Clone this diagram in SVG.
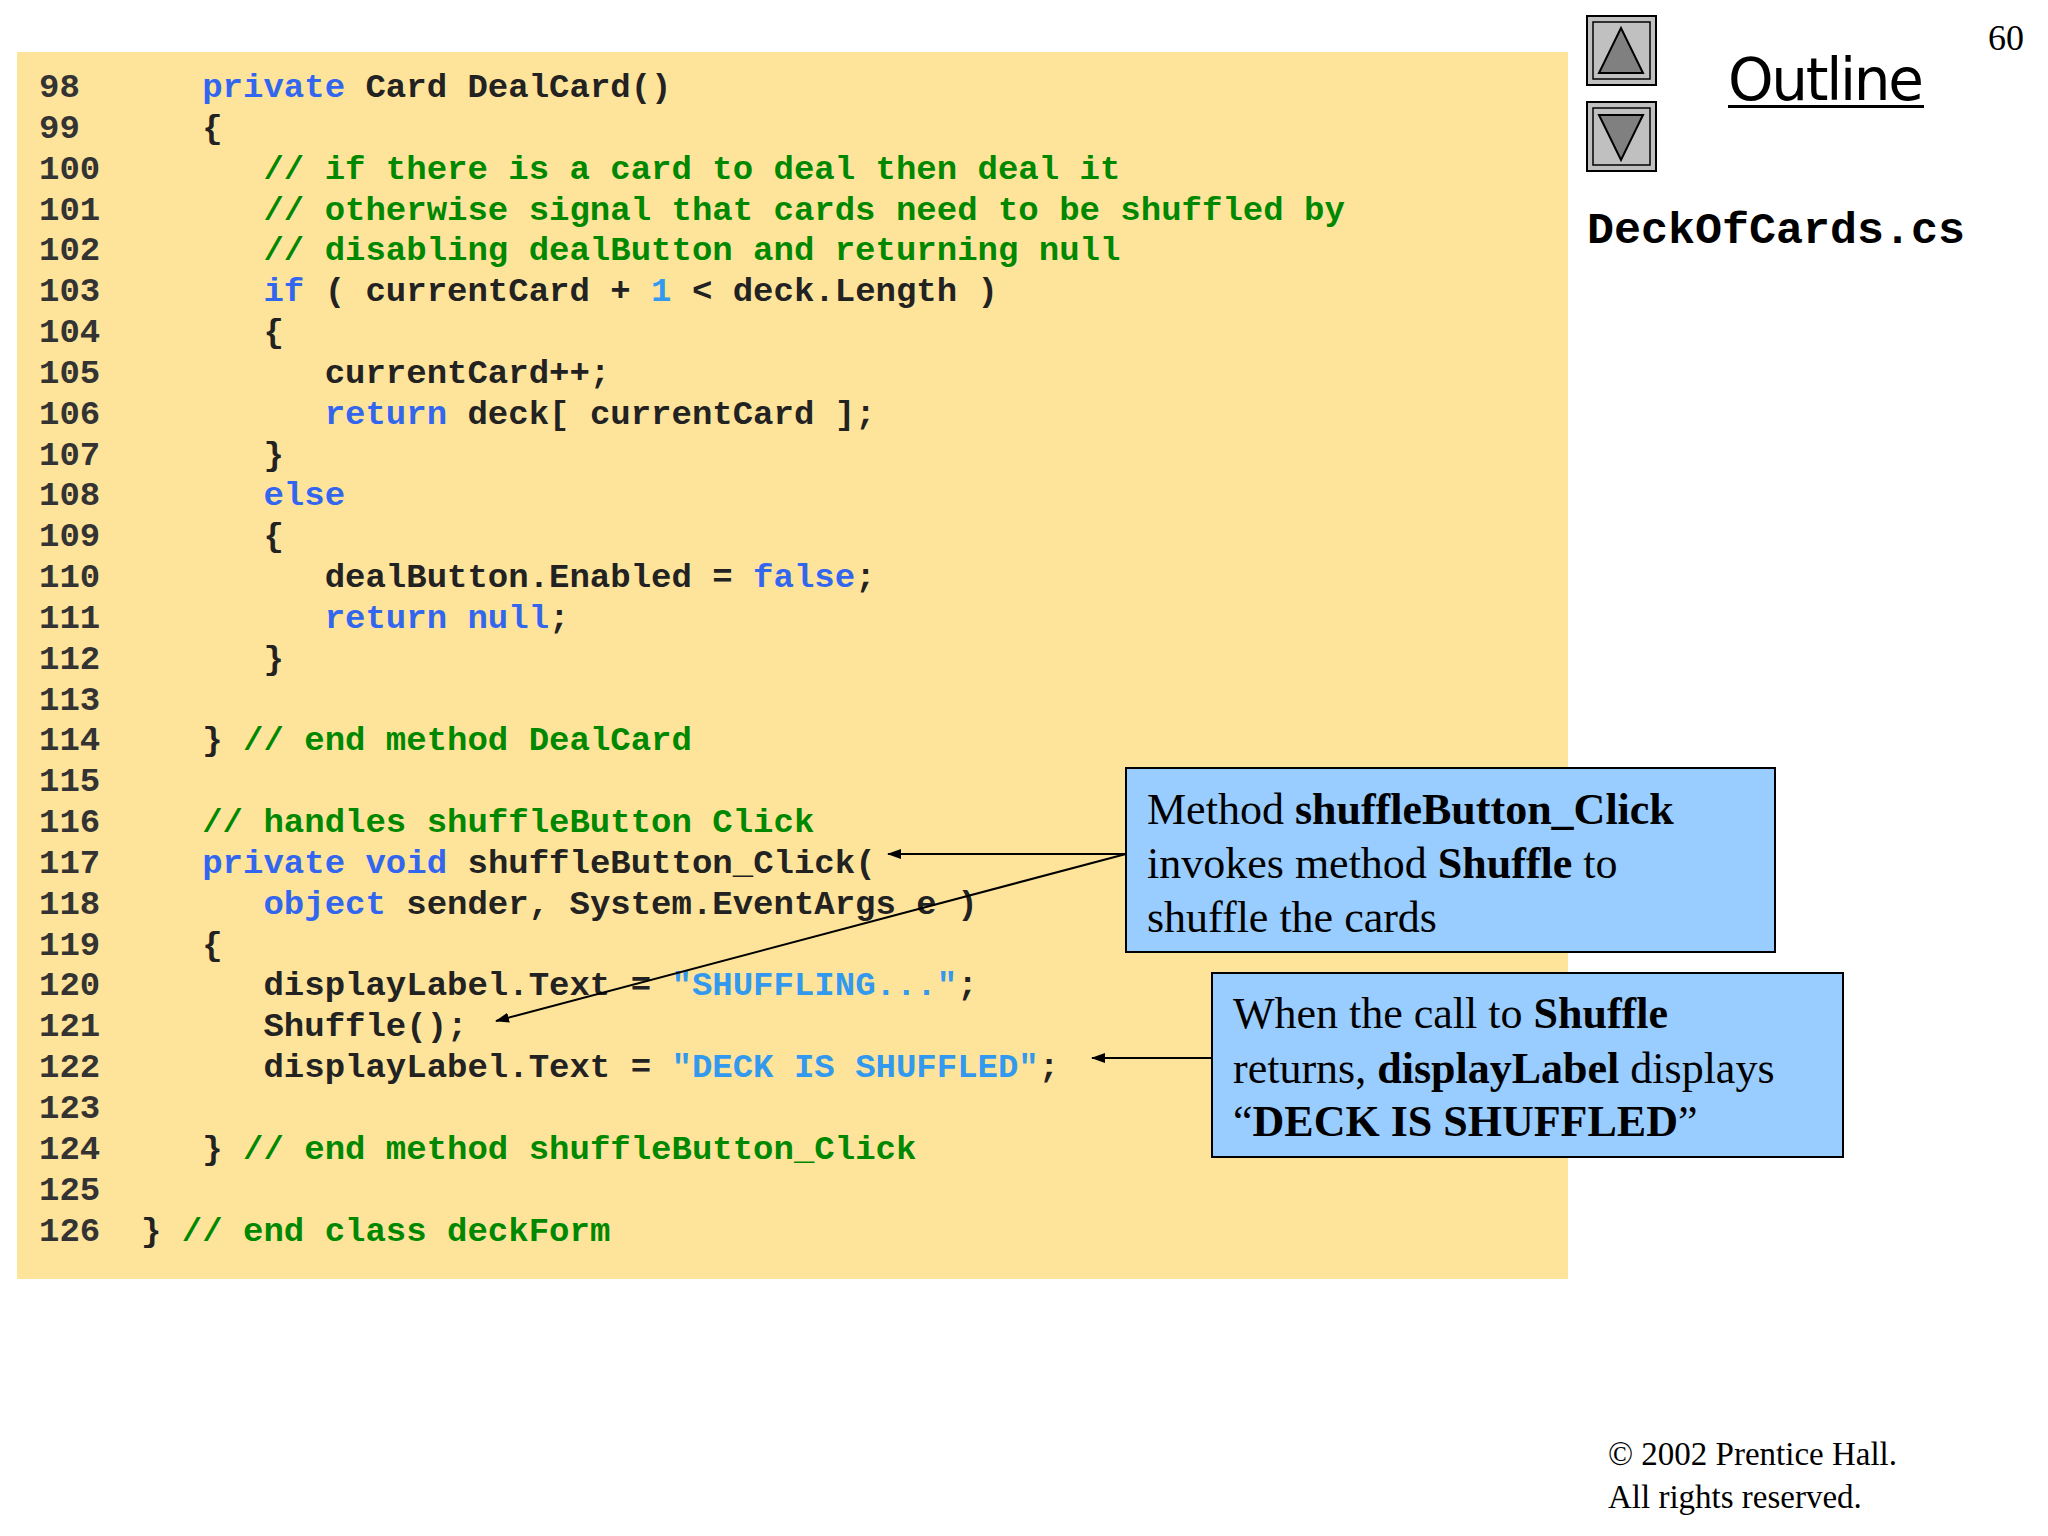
<svg xmlns="http://www.w3.org/2000/svg" width="2048" height="1536" viewBox="0 0 2048 1536">
<defs>
<marker id="ah" markerWidth="14" markerHeight="10" refX="13" refY="5" orient="auto" markerUnits="userSpaceOnUse"><path d="M0,0 L14,5 L0,10 Z" fill="#000"/></marker>
<style>
.c{font-family:"Liberation Mono",monospace;font-weight:bold;font-size:34px;fill:#222;white-space:pre}
.n{font-family:"Liberation Mono",monospace;font-weight:bold;font-size:34px;fill:#333}
.k{fill:#3366ee}.g{fill:#008800}.s{fill:#3399ee}
.t{font-family:"Liberation Serif",serif;font-size:44px;fill:#000}
.box{fill:#99ccff;stroke:#000;stroke-width:2}
.btn{fill:#c0c0c0;stroke:#000;stroke-width:2}
</style>
</defs>
<rect width="2048" height="1536" fill="#fff"/>
<rect x="17" y="52" width="1551" height="1227" fill="#fee49b"/>
<g id="code" xml:space="preserve">
<text class="n" x="39" y="97">98</text><text class="c" x="141" y="97">   <tspan class="k">private</tspan> Card DealCard()</text>
<text class="n" x="39" y="138">99</text><text class="c" x="141" y="138">   {</text>
<text class="n" x="39" y="179">100</text><text class="c g" x="141" y="179">      // if there is a card to deal then deal it</text>
<text class="n" x="39" y="220">101</text><text class="c g" x="141" y="220">      // otherwise signal that cards need to be shuffled by</text>
<text class="n" x="39" y="260">102</text><text class="c g" x="141" y="260">      // disabling dealButton and returning null</text>
<text class="n" x="39" y="301">103</text><text class="c" x="141" y="301">      <tspan class="k">if</tspan> ( currentCard + <tspan class="s">1</tspan> &lt; deck.Length )</text>
<text class="n" x="39" y="342">104</text><text class="c" x="141" y="342">      {</text>
<text class="n" x="39" y="383">105</text><text class="c" x="141" y="383">         currentCard++;</text>
<text class="n" x="39" y="424">106</text><text class="c" x="141" y="424">         <tspan class="k">return</tspan> deck[ currentCard ];</text>
<text class="n" x="39" y="465">107</text><text class="c" x="141" y="465">      }</text>
<text class="n" x="39" y="505">108</text><text class="c k" x="141" y="505">      else</text>
<text class="n" x="39" y="546">109</text><text class="c" x="141" y="546">      {</text>
<text class="n" x="39" y="587">110</text><text class="c" x="141" y="587">         dealButton.Enabled = <tspan class="k">false</tspan>;</text>
<text class="n" x="39" y="628">111</text><text class="c" x="141" y="628">         <tspan class="k">return</tspan> <tspan class="k">null</tspan>;</text>
<text class="n" x="39" y="669">112</text><text class="c" x="141" y="669">      }</text>
<text class="n" x="39" y="710">113</text>
<text class="n" x="39" y="750">114</text><text class="c" x="141" y="750">   } <tspan class="g">// end method DealCard</tspan></text>
<text class="n" x="39" y="791">115</text>
<text class="n" x="39" y="832">116</text><text class="c g" x="141" y="832">   // handles shuffleButton Click</text>
<text class="n" x="39" y="873">117</text><text class="c" x="141" y="873">   <tspan class="k">private</tspan> <tspan class="k">void</tspan> shuffleButton_Click(</text>
<text class="n" x="39" y="914">118</text><text class="c" x="141" y="914">      <tspan class="k">object</tspan> sender, System.EventArgs e )</text>
<text class="n" x="39" y="955">119</text><text class="c" x="141" y="955">   {</text>
<text class="n" x="39" y="995">120</text><text class="c" x="141" y="995">      displayLabel.Text = <tspan class="s">"SHUFFLING..."</tspan>;</text>
<text class="n" x="39" y="1036">121</text><text class="c" x="141" y="1036">      Shuffle();</text>
<text class="n" x="39" y="1077">122</text><text class="c" x="141" y="1077">      displayLabel.Text = <tspan class="s">"DECK IS SHUFFLED"</tspan>;</text>
<text class="n" x="39" y="1118">123</text>
<text class="n" x="39" y="1159">124</text><text class="c" x="141" y="1159">   } <tspan class="g">// end method shuffleButton_Click</tspan></text>
<text class="n" x="39" y="1200">125</text>
<text class="n" x="39" y="1241">126</text><text class="c" x="141" y="1241">} <tspan class="g">// end class deckForm</tspan></text>
</g>
<g id="connectors" stroke="#000" stroke-width="2" fill="none">
<line x1="1126" y1="854" x2="888" y2="854" marker-end="url(#ah)"/>
<line x1="1126" y1="854" x2="496" y2="1021" marker-end="url(#ah)"/>
<line x1="1212" y1="1058" x2="1092" y2="1058" marker-end="url(#ah)"/>
</g>
<g id="callout1">
<rect class="box" x="1126" y="768" width="649" height="184"/>
<text class="t" x="1147" y="824">Method <tspan font-weight="bold">shuffleButton_Click</tspan></text>
<text class="t" x="1147" y="878">invokes method <tspan font-weight="bold">Shuffle</tspan> to</text>
<text class="t" x="1147" y="932">shuffle the cards</text>
</g>
<g id="callout2">
<rect class="box" x="1212" y="973" width="631" height="184"/>
<text class="t" x="1233" y="1028">When the call to <tspan font-weight="bold">Shuffle</tspan></text>
<text class="t" x="1233" y="1083">returns, <tspan font-weight="bold">displayLabel</tspan> displays</text>
<text class="t" x="1233" y="1136">“<tspan font-weight="bold">DECK IS SHUFFLED</tspan>”</text>
</g>
<g id="nav">
<rect class="btn" x="1587" y="16" width="69" height="69"/>
<rect x="1593" y="22" width="57" height="57" fill="none" stroke="#000" stroke-width="1.5"/>
<polygon points="1621,28 1599,73 1643,73" fill="#808080" stroke="#000" stroke-width="2"/>
<rect class="btn" x="1587" y="102" width="69" height="69"/>
<rect x="1593" y="108" width="57" height="57" fill="none" stroke="#000" stroke-width="1.5"/>
<polygon points="1599,115 1643,115 1621,160" fill="#808080" stroke="#000" stroke-width="2"/>
<text x="1728" y="100" font-family="'DejaVu Sans',sans-serif" font-size="58" fill="#000" textLength="196">Outline</text>
<rect x="1728" y="105" width="196" height="3" fill="#000"/>
<text x="1988" y="50" font-family="'Liberation Serif',serif" font-size="36">60</text>
<text x="1587" y="243" font-family="'Liberation Mono',monospace" font-weight="bold" font-size="45">DeckOfCards.cs</text>
</g>
<g id="footer" font-family="'Liberation Serif',serif" font-size="33">
<text x="1608" y="1465">© 2002 Prentice Hall.</text>
<text x="1608" y="1508">All rights reserved.</text>
</g>
</svg>
